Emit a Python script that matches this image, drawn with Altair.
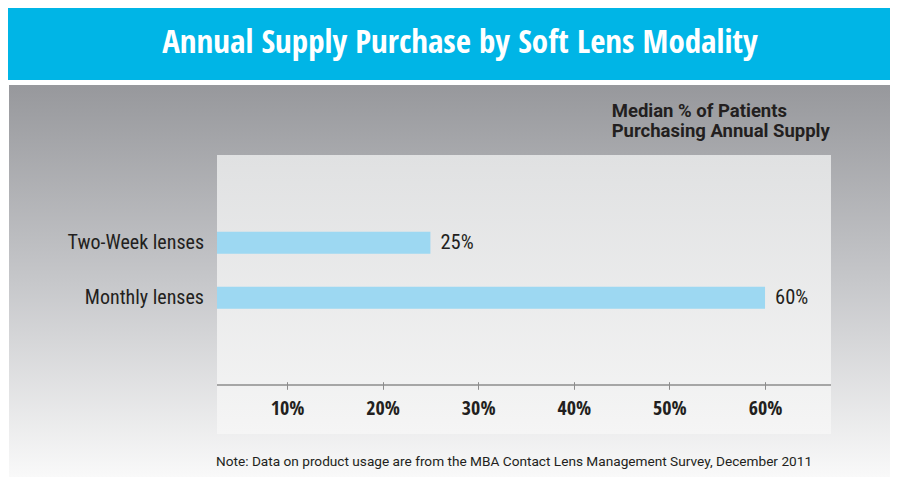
import altair as alt
import pandas as pd

# ---- data ----
categories = ["Two-Week lenses", "Monthly lenses"]
values = [25, 60]
value_labels = ["25%", "60%"]
tick_values = [10, 20, 30, 40, 50, 60]

title_text = "Annual Supply Purchase by Soft Lens Modality"
subtitle_line1 = "Median % of Patients"
subtitle_line2 = "Purchasing Annual Supply"
note_text = "Note: Data on product usage are from the MBA Contact Lens Management Survey, December 2011"

df = pd.DataFrame({"modality": categories, "pct": values, "label": value_labels})
one = pd.DataFrame({"k": [0]})

COND_BOLD = "Open Sans Condensed, Roboto Condensed, Liberation Sans"
COND = "Roboto Condensed, Liberation Sans"
SANS = "Roboto, Liberation Sans"
TXT = "#231f20"
W, H = 614, 279

grey_grad = alt.LinearGradient(
    gradient="linear",
    stops=[alt.GradientStop(color="#97989c", offset=0),
           alt.GradientStop(color="#c6c7ca", offset=0.5),
           alt.GradientStop(color="#f9f9f9", offset=1)],
    x1=0, x2=0, y1=0, y2=1)
light_grad = alt.LinearGradient(
    gradient="linear",
    stops=[alt.GradientStop(color="#e0e1e2", offset=0),
           alt.GradientStop(color="#f5f5f5", offset=1)],
    x1=0, x2=0, y1=0, y2=1)

cyan_band = alt.Chart(one).mark_rect(color="#00b5e6").encode(
    x=alt.value(-209), x2=alt.value(673), y=alt.value(-147), y2=alt.value(-75))
grey_panel = alt.Chart(one).mark_rect(fill=grey_grad).encode(
    x=alt.value(-208), x2=alt.value(673), y=alt.value(-70), y2=alt.value(322))
light_panel = alt.Chart(one).mark_rect(fill=light_grad).encode(
    x=alt.value(0), x2=alt.value(W), y=alt.value(0), y2=alt.value(H))
axis_line = alt.Chart(one).mark_rule(color="#8c8c8c", strokeWidth=1.5).encode(
    x=alt.value(0), x2=alt.value(W), y=alt.value(230))

title = alt.Chart(one).mark_text(
    text=title_text, font=COND_BOLD, fontSize=33, fontWeight="bold", color="white",
    align="center", baseline="alphabetic").encode(x=alt.value(243), y=alt.value(-101.7))
sub1 = alt.Chart(one).mark_text(
    text=subtitle_line1, font=SANS, fontSize=18.5, fontWeight="bold", color=TXT,
    align="left", baseline="alphabetic").encode(x=alt.value(394.7), y=alt.value(-38.3))
sub2 = alt.Chart(one).mark_text(
    text=subtitle_line2, font=SANS, fontSize=18.5, fontWeight="bold", color=TXT,
    align="left", baseline="alphabetic").encode(x=alt.value(394.7), y=alt.value(-18.3))
note = alt.Chart(one).mark_text(
    text=note_text, font=SANS, fontSize=13.65, color=TXT,
    align="left", baseline="alphabetic").encode(x=alt.value(-1), y=alt.value(311))

xscale = alt.Scale(domain=[2.68, 66.9], clamp=True)
yscale = alt.Scale(range=[49.2, 181.2], paddingInner=0.6, paddingOuter=0.5)

base = alt.Chart(df).encode(
    y=alt.Y("modality:N", sort=categories, scale=yscale, title=None,
            axis=alt.Axis(domain=False, ticks=False, labelPadding=13.5,
                          labelFont=COND, labelFontSize=20, labelColor=TXT,
                          zindex=1)),
)
bars = base.mark_bar(color="#9dd8f2").encode(
    x=alt.X("pct:Q", scale=xscale, title=None,
            axis=alt.Axis(values=tick_values, labelExpr="datum.value + '%'",
                          domain=False, grid=False, tickColor="#8c8c8c",
                          tickSize=7.6, tickWidth=1, offset=-52.3,
                          labelPadding=9, labelFont=COND_BOLD, labelFontSize=20,
                          labelFontWeight="bold", labelColor=TXT, zindex=1)),
)
bar_labels = base.mark_text(align="left", baseline="middle", dx=10, font=COND,
                            fontSize=20.5, color=TXT).encode(
    x=alt.X("pct:Q", scale=xscale), text="label:N")

chart = alt.layer(cyan_band, grey_panel, light_panel, axis_line, title, sub1, sub2,
                  note, bars, bar_labels).properties(
    width=W, height=H,
    padding={"left": 209, "top": 147, "right": 59, "bottom": 43},
    autosize=alt.AutoSizeParams(type="none"),
).configure_view(stroke=None).configure(background="white")

chart.save("out.html", embed_options={"renderer": "svg", "actions": False})
